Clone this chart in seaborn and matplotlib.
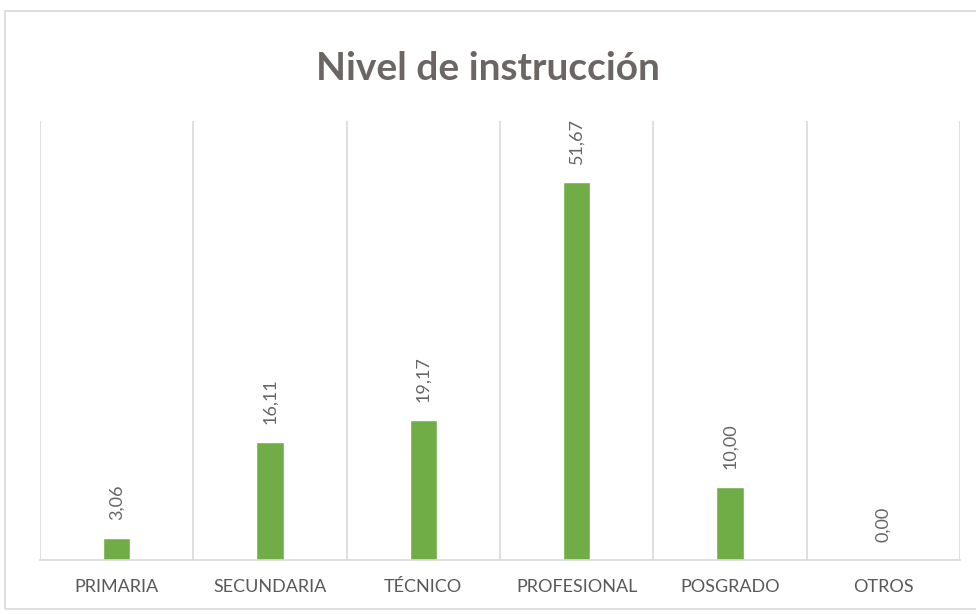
import matplotlib
matplotlib.use("Agg")
import matplotlib.pyplot as plt
import seaborn as sns
import pandas as pd
from matplotlib.patches import Rectangle

categories = ["PRIMARIA", "SECUNDARIA", "TÉCNICO", "PROFESIONAL", "POSGRADO", "OTROS"]
percentages = [3.06, 16.11, 19.17, 51.67, 10.00, 0.00]

df = pd.DataFrame({"nivel": categories, "pct": percentages})

sns.set_style("white")
plt.rcParams["font.family"] = ["Lato", "DejaVu Sans"]

fig = plt.figure(figsize=(9.76, 6.14), dpi=100)
ax = fig.add_axes([40 / 976, 54 / 614, 920 / 976, 439 / 614])

sns.barplot(data=df, x="nivel", y="pct", color="#70AD47", width=0.18,
            saturation=1, ax=ax)

# labels above bars, rotated like the Excel original
labels = [f"{v:.2f}".replace(".", ",") for v in percentages]
ax.bar_label(ax.containers[0], labels=labels, rotation=90, padding=13,
             fontsize=13, color="#666666")

ax.set_ylim(0, 60)
ax.set_xlim(-0.5, 5.5)
ax.set_yticks([])
ax.set_xlabel("")
ax.set_ylabel("")

# vertical separators between categories
ax.set_xticks([i - 0.5 for i in range(7)], minor=True)
ax.grid(axis="x", which="minor", color="#d9d9d9", linewidth=1.2)
ax.tick_params(axis="x", which="both", length=0, pad=14)
for lab in ax.get_xticklabels():
    lab.set_fontsize(13)
    lab.set_color("#595959")

for side in ["top", "left", "right"]:
    ax.spines[side].set_visible(False)
ax.spines["bottom"].set_color("#d9d9d9")
ax.spines["bottom"].set_linewidth(1.2)

fig.text(0.5, 1 - 68 / 614, "Nivel de instrucción", ha="center", va="center",
         fontsize=28, fontweight="bold", color="#6b6664")

fig.patches.append(Rectangle((5 / 976, 5 / 614), 975 / 976, 598 / 614,
                             transform=fig.transFigure, fill=False,
                             edgecolor="#d9d9d9", linewidth=1.2))

fig.savefig("out.png", dpi=100)
